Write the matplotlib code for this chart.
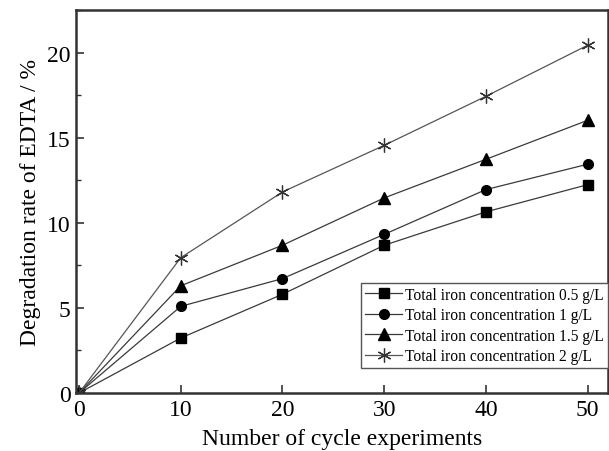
import matplotlib
matplotlib.use("Agg")
import matplotlib.pyplot as plt
from matplotlib.ticker import MultipleLocator

plt.rcParams['font.family'] = ['Liberation Serif', 'DejaVu Serif']

cycles = [0, 10, 20, 30, 40, 50]
conc_05 = [0, 3.23, 5.80, 8.68, 10.64, 12.24]
conc_1 = [0, 5.09, 6.72, 9.32, 11.95, 13.44]
conc_15 = [0, 6.30, 8.68, 11.46, 13.73, 16.02]
conc_2 = [0, 7.95, 11.81, 14.55, 17.43, 20.43]
labels = ["Total iron concentration 0.5 g/L",
          "Total iron concentration 1 g/L",
          "Total iron concentration 1.5 g/L",
          "Total iron concentration 2 g/L"]
xlabel = "Number of cycle experiments"
ylabel = "Degradation rate of EDTA / %"

fig = plt.figure(figsize=(6.09, 4.52), dpi=100)
ax = fig.add_axes([76/609, 1-394/452, (608-76)/609, (394-11)/452])

line_c = '#3a3a3a'
ax.plot(cycles, conc_05, color=line_c, lw=0.9, marker='s', ms=6.5, mfc='black', mec='black', label=labels[0])
ax.plot(cycles, conc_1, color=line_c, lw=0.9, marker='o', ms=7, mfc='black', mec='black', label=labels[1])
ax.plot(cycles, conc_15, color=line_c, lw=0.9, marker='^', ms=8, mfc='black', mec='black', label=labels[2])
ax.plot(cycles, conc_2, color='#555555', lw=0.9, marker=(6, 2, 0), ms=10, mfc='none', mec='#333333', mew=0.9, label=labels[3])

ax.set_xlim(-0.3, 52)
ax.set_ylim(0, 22.5)
ax.xaxis.set_major_locator(MultipleLocator(10))
ax.yaxis.set_major_locator(MultipleLocator(5))
ax.yaxis.set_minor_locator(MultipleLocator(2.5))
ax.tick_params(which='major', direction='in', length=6, width=1.2, color='#333333', labelsize=17, pad=4)
ax.tick_params(which='minor', direction='in', length=3.5, width=1.0, color='#333333')
for sp in ax.spines.values():
    sp.set_linewidth(1.8)
    sp.set_color('#333333')

ax.set_xlabel(xlabel, fontsize=17, labelpad=6)
ax.set_ylabel(ylabel, fontsize=17, labelpad=4)

leg = ax.legend(loc='upper left', bbox_to_anchor=(361/609, 1-284/452), bbox_transform=fig.transFigure,
                fontsize=11.2, frameon=True, fancybox=False, edgecolor='#555555', framealpha=1,
                handlelength=2.4, handletextpad=0.2, borderpad=0.25, labelspacing=0.28, borderaxespad=0)
leg.get_frame().set_linewidth(1.0)

fig.savefig('out.png', dpi=100)
